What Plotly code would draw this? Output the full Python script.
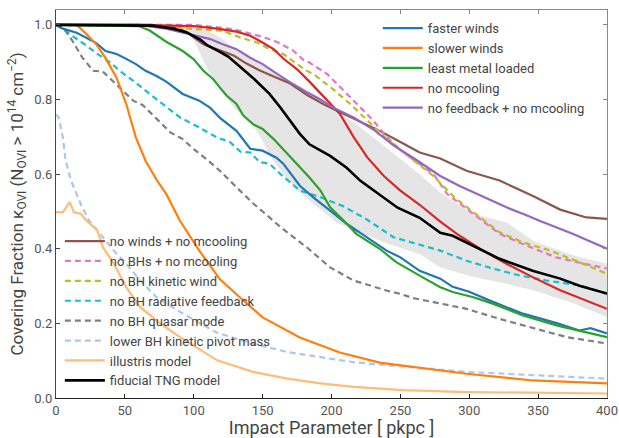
import plotly.graph_objects as go

# ---- data ----
x_fid = [0, 50, 70, 85, 95, 105, 110, 119, 125, 133, 143, 155, 163, 177, 184, 199, 211, 221, 233, 248, 264, 279, 288, 300, 322, 346, 366, 380, 400]
y_fid = [1.0, 1.0, 0.998, 0.99, 0.98, 0.96, 0.945, 0.928, 0.915, 0.89, 0.858, 0.815, 0.778, 0.708, 0.68, 0.649, 0.617, 0.582, 0.55, 0.51, 0.483, 0.443, 0.435, 0.413, 0.373, 0.341, 0.32, 0.301, 0.28]

x_band = [0, 60, 80, 95, 100, 110, 120, 130, 141, 148, 155, 167, 180, 190, 204, 216, 240, 264, 279, 303, 327, 347, 376, 400]
band_lo = [1.0, 1.0, 0.995, 0.98, 0.96, 0.88, 0.82, 0.775, 0.739, 0.703, 0.65, 0.59, 0.54, 0.51, 0.47, 0.45, 0.415, 0.385, 0.35, 0.324, 0.306, 0.288, 0.253, 0.217]
band_hi = [1.0, 1.0, 1.0, 1.0, 0.995, 0.985, 0.965, 0.935, 0.91, 0.895, 0.88, 0.855, 0.83, 0.8, 0.77, 0.74, 0.67, 0.6, 0.55, 0.493, 0.471, 0.42, 0.382, 0.36]

x_fast = [0, 5, 15, 22, 29, 36, 44, 51, 58, 65, 73, 80, 92, 104, 112, 119, 131, 141, 150, 160, 165, 177, 187, 199, 211, 226, 240, 250, 264, 279, 288, 300, 315, 339, 364, 380, 388, 400]
y_fast = [1.0, 0.99, 0.979, 0.965, 0.952, 0.93, 0.922, 0.909, 0.895, 0.877, 0.863, 0.848, 0.815, 0.797, 0.778, 0.751, 0.716, 0.668, 0.663, 0.644, 0.628, 0.569, 0.537, 0.502, 0.467, 0.43, 0.395, 0.377, 0.341, 0.32, 0.298, 0.285, 0.261, 0.226, 0.2, 0.181, 0.187, 0.173]

x_slow = [0, 15, 22, 29, 36, 44, 51, 58, 65, 73, 80, 90, 104, 119, 134, 150, 177, 206, 235, 264, 298, 346, 400]
y_slow = [1.0, 1.0, 0.976, 0.949, 0.911, 0.858, 0.788, 0.698, 0.636, 0.585, 0.547, 0.475, 0.395, 0.318, 0.268, 0.216, 0.162, 0.122, 0.095, 0.082, 0.065, 0.047, 0.039]

x_metal = [0, 60, 68, 80, 92, 100, 107, 114, 119, 124, 131, 136, 143, 150, 158, 165, 175, 184, 192, 199, 209, 218, 235, 247, 264, 279, 288, 303, 317, 339, 364, 380, 400]
y_metal = [1.0, 0.997, 0.985, 0.955, 0.93, 0.908, 0.877, 0.855, 0.832, 0.81, 0.788, 0.757, 0.734, 0.721, 0.694, 0.667, 0.627, 0.591, 0.556, 0.511, 0.475, 0.44, 0.4, 0.364, 0.328, 0.297, 0.284, 0.27, 0.253, 0.221, 0.194, 0.181, 0.163]

x_nomc = [0, 60, 100, 117, 131, 141, 148, 158, 165, 175, 184, 196, 206, 216, 226, 238, 250, 264, 279, 291, 310, 327, 346, 366, 388, 400]
y_nomc = [1.0, 1.0, 0.997, 0.99, 0.982, 0.971, 0.957, 0.935, 0.91, 0.881, 0.848, 0.802, 0.762, 0.7, 0.645, 0.595, 0.556, 0.518, 0.473, 0.44, 0.395, 0.36, 0.324, 0.289, 0.257, 0.239]

x_nofb = [0, 60, 80, 92, 102, 112, 121, 131, 141, 150, 160, 170, 182, 192, 201, 216, 231, 245, 260, 279, 293, 310, 327, 342, 351, 375, 400]
y_nofb = [1.0, 1.0, 0.99, 0.979, 0.971, 0.962, 0.948, 0.935, 0.912, 0.895, 0.87, 0.846, 0.82, 0.8, 0.779, 0.752, 0.718, 0.677, 0.642, 0.595, 0.568, 0.54, 0.511, 0.489, 0.475, 0.44, 0.4]

x_nowinds = [0, 70, 90, 97, 107, 117, 129, 138, 148, 158, 170, 182, 194, 204, 221, 235, 250, 264, 279, 298, 322, 347, 366, 385, 400]
y_nowinds = [1.0, 1.0, 0.99, 0.975, 0.948, 0.935, 0.918, 0.897, 0.878, 0.862, 0.843, 0.813, 0.788, 0.77, 0.741, 0.716, 0.686, 0.658, 0.642, 0.609, 0.583, 0.54, 0.505, 0.484, 0.48]

x_nobh = [0, 100, 119, 129, 143, 150, 160, 172, 180, 184, 197, 209, 218, 230, 240, 250, 262, 274, 284, 303, 322, 342, 363, 383, 400]
y_nobh = [1.0, 1.0, 0.993, 0.988, 0.975, 0.968, 0.955, 0.932, 0.905, 0.899, 0.868, 0.823, 0.79, 0.745, 0.7, 0.665, 0.632, 0.6, 0.547, 0.493, 0.44, 0.408, 0.377, 0.36, 0.347]

x_nokin = [0, 70, 105, 121, 134, 146, 155, 165, 175, 182, 187, 201, 213, 226, 240, 250, 262, 274, 290, 308, 322, 339, 359, 380, 400]
y_nokin = [1.0, 0.997, 0.988, 0.984, 0.966, 0.953, 0.935, 0.922, 0.895, 0.877, 0.868, 0.828, 0.79, 0.743, 0.695, 0.665, 0.63, 0.595, 0.535, 0.484, 0.444, 0.417, 0.395, 0.364, 0.333]

x_norad = [0, 7, 12, 22, 29, 39, 48, 58, 68, 77, 90, 104, 117, 126, 134, 141, 148, 155, 163, 177, 192, 208, 225, 245, 262, 279, 298, 318, 337, 356, 380, 400]
y_norad = [1.0, 0.984, 0.97, 0.945, 0.925, 0.9, 0.872, 0.845, 0.815, 0.79, 0.752, 0.725, 0.698, 0.687, 0.66, 0.658, 0.632, 0.628, 0.6, 0.556, 0.538, 0.515, 0.48, 0.431, 0.413, 0.395, 0.368, 0.346, 0.328, 0.315, 0.302, 0.279]

x_noqso = [0, 3, 7, 12, 19, 27, 34, 41, 48, 56, 63, 70, 77, 83, 92, 100, 109, 119, 131, 143, 155, 163, 182, 199, 216, 240, 250, 259, 274, 298, 322, 347, 371, 400]
y_noqso = [1.0, 0.997, 0.984, 0.957, 0.913, 0.877, 0.875, 0.85, 0.823, 0.797, 0.785, 0.76, 0.735, 0.712, 0.694, 0.667, 0.641, 0.609, 0.565, 0.522, 0.484, 0.458, 0.404, 0.35, 0.315, 0.288, 0.279, 0.268, 0.257, 0.239, 0.212, 0.186, 0.163, 0.146]

x_pivot = [0, 2, 5, 7, 11, 15, 19, 24, 32, 42, 51, 61, 73, 88, 105, 117, 130, 143, 168, 192, 216, 240, 264, 298, 347, 400]
y_pivot = [0.76, 0.752, 0.698, 0.636, 0.582, 0.547, 0.511, 0.476, 0.44, 0.395, 0.36, 0.315, 0.27, 0.235, 0.199, 0.175, 0.16, 0.146, 0.123, 0.11, 0.096, 0.088, 0.08, 0.07, 0.061, 0.052]

x_ill = [0, 5, 10, 13, 18, 22, 30, 34, 42, 51, 61, 76, 90, 105, 117, 143, 168, 192, 216, 252, 298, 400]
y_ill = [0.498, 0.498, 0.525, 0.498, 0.494, 0.476, 0.449, 0.404, 0.36, 0.297, 0.244, 0.199, 0.163, 0.128, 0.101, 0.07, 0.052, 0.039, 0.03, 0.021, 0.016, 0.012]

x_ticks = [0, 50, 100, 150, 200, 250, 300, 350, 400]
y_ticks = [0.0, 0.2, 0.4, 0.6, 0.8, 1.0]

# ---- figure ----
fig = go.Figure()

fig.add_trace(go.Scatter(x=x_band, y=band_lo, mode="lines", line=dict(width=0), showlegend=False, hoverinfo="skip"))
fig.add_trace(go.Scatter(x=x_band, y=band_hi, mode="lines", line=dict(width=0), fill="tonexty",
                         fillcolor="rgba(0,0,0,0.1)", showlegend=False, hoverinfo="skip"))

DASH = "6px,4px"
LW = 2.2
series2 = [
    ("no winds + no mcooling", x_nowinds, y_nowinds, "#8c564b", "solid", 1),
    ("no BHs + no mcooling", x_nobh, y_nobh, "#e377c2", DASH, 2),
    ("no BH kinetic wind", x_nokin, y_nokin, "#bcbd22", DASH, 3),
    ("no BH radiative feedback", x_norad, y_norad, "#17becf", DASH, 4),
    ("no BH quasar mode", x_noqso, y_noqso, "#7f7f7f", DASH, 5),
    ("lower BH kinetic pivot mass", x_pivot, y_pivot, "#aec7e8", DASH, 6),
    ("illustris model", x_ill, y_ill, "#ffbb78", "solid", 7),
]
series1 = [
    ("faster winds", x_fast, y_fast, "#1f77b4", "solid", 1),
    ("slower winds", x_slow, y_slow, "#ff7f0e", "solid", 2),
    ("least metal loaded", x_metal, y_metal, "#2ca02c", "solid", 3),
    ("no mcooling", x_nomc, y_nomc, "#d62728", "solid", 4),
    ("no feedback + no mcooling", x_nofb, y_nofb, "#9467bd", "solid", 5),
]

for name, xs, ys, col, dash, rank in series2:
    fig.add_trace(go.Scatter(x=xs, y=ys, mode="lines", name=name, legend="legend2", legendrank=rank,
                             line=dict(color=col, width=LW, dash=dash)))
for name, xs, ys, col, dash, rank in series1:
    fig.add_trace(go.Scatter(x=xs, y=ys, mode="lines", name=name, legend="legend", legendrank=rank,
                             line=dict(color=col, width=LW, dash=dash)))
fig.add_trace(go.Scatter(x=x_fid, y=y_fid, mode="lines", name="fiducial TNG model", legend="legend2",
                         legendrank=8, line=dict(color="black", width=2.6)))

FONT = "Roboto, 'Open Sans', sans-serif"
TXT = "#444444"
fig.update_layout(
    width=619, height=438,
    margin=dict(l=56, r=12, t=10, b=40),
    paper_bgcolor="white", plot_bgcolor="white",
    font=dict(family=FONT, color=TXT, size=13),
    xaxis=dict(range=[0, 400], tickvals=x_ticks, ticks="inside", ticklen=4, tickcolor="#222", automargin=False,
               showline=True, linecolor="#222", linewidth=1.2, showgrid=False, zeroline=False,
               tickfont=dict(size=13, color="#555"),
               title=dict(text="Impact Parameter [ pkpc ]", font=dict(size=18, color=TXT), standoff=4)),
    yaxis=dict(range=[0, 1.04], tickvals=y_ticks, tickformat=".1f", ticks="inside", ticklen=4, tickcolor="#444",
               automargin=False,
               showline=True, linecolor="#444", linewidth=1.2, showgrid=False, zeroline=False,
               tickfont=dict(size=13, color="#555"),
               title=dict(text="Covering Fraction κ<sub>OVI</sub> (N<sub>OVI</sub> > 10<sup>14</sup> cm<sup>−2</sup>)",
                          font=dict(size=17, color=TXT), standoff=6)),
    xaxis2=dict(range=[0, 400], overlaying="x", side="top", tickvals=x_ticks, ticks="inside", ticklen=4,
                tickcolor="#888", showticklabels=False, showline=True, linecolor="#888", linewidth=1.2,
                showgrid=False, zeroline=False, automargin=False),
    yaxis2=dict(range=[0, 1.04], overlaying="y", side="right", tickvals=y_ticks, ticks="inside", ticklen=4,
                tickcolor="#888", showticklabels=False, showline=True, linecolor="#888", linewidth=1.2,
                showgrid=False, zeroline=False, automargin=False),
    legend=dict(x=0.584, y=0.992, xanchor="left", yanchor="top", bgcolor="rgba(0,0,0,0)", traceorder="normal",
                font=dict(size=13, color=TXT), tracegroupgap=0, itemwidth=40),
    legend2=dict(x=0.007, y=0.443, xanchor="left", yanchor="top", bgcolor="rgba(0,0,0,0)", traceorder="normal",
                 font=dict(size=13, color=TXT), tracegroupgap=0, itemwidth=40),
)
# invisible trace to activate the mirrored frame axes
fig.add_trace(go.Scatter(x=[None], y=[None], xaxis="x2", yaxis="y2", showlegend=False, hoverinfo="skip"))

fig.write_html("out.html")
